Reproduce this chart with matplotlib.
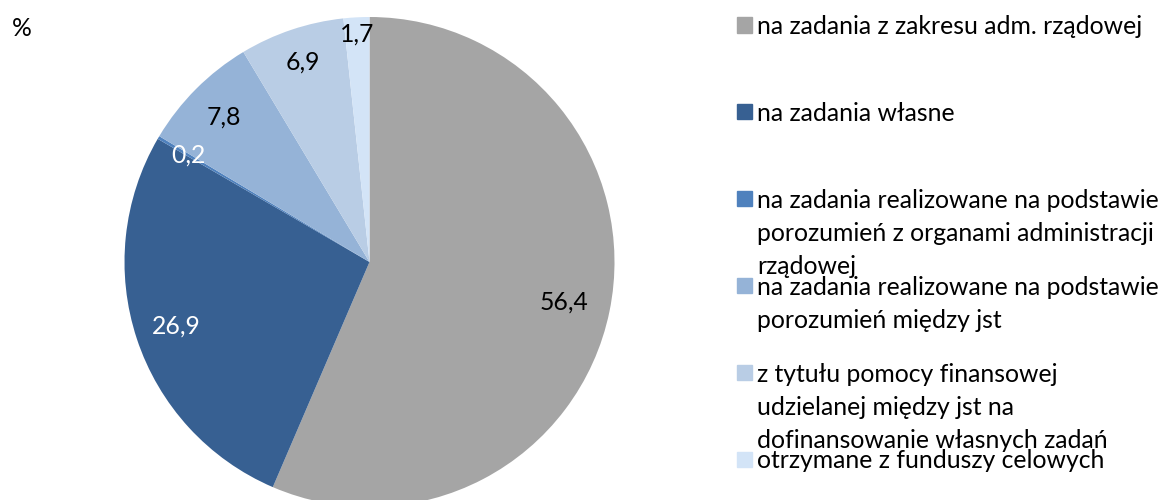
import matplotlib
matplotlib.use("Agg")
import numpy as np
import matplotlib.pyplot as plt

# -----------------------------
# data
# -----------------------------
categories = [
    ["na zadania z zakresu adm. rządowej"],
    ["na zadania własne"],
    ["na zadania realizowane na podstawie",
     "porozumień z organami administracji",
     "rządowej"],
    ["na zadania realizowane na podstawie",
     "porozumień między jst"],
    ["z tytułu pomocy finansowej",
     "udzielanej między jst na",
     "dofinansowanie własnych zadań"],
    ["otrzymane z funduszy celowych"],
]
shares = [56.4, 26.9, 0.2, 7.8, 6.9, 1.7]
value_labels = ["56,4", "26,9", "0,2", "7,8", "6,9", "1,7"]

colors = ["#A5A5A5", "#376092", "#4F81BD", "#95B3D7", "#B9CDE5", "#D3E4F7"]
label_colors = ["black", "white", "white", "black", "black", "black"]
label_dist = [0.81, 0.83, 0.86, 0.84, 0.86, 0.93]

plt.rcParams["font.family"] = ["Lato", "DejaVu Sans"]
FS = 17.8

W, H = 1164, 500
fig = plt.figure(figsize=(W / 100, H / 100), dpi=100)

# pie axes, centre (369.5, 262) px, radius 245 px
cx, cy, r = 369.5, 262, 245
ax = fig.add_axes([(cx - r) / W, (H - cy - r) / H, 2 * r / W, 2 * r / H])
wedges, _ = ax.pie(shares, colors=colors, startangle=90, counterclock=False,
                   radius=1, wedgeprops=dict(linewidth=0))
ax.set_xlim(-1, 1)
ax.set_ylim(-1, 1)
ax.set_aspect("equal")
ax.axis("off")

for w, txt, col, d in zip(wedges, value_labels, label_colors, label_dist):
    ang = np.deg2rad((w.theta1 + w.theta2) / 2)
    ax.text(d * np.cos(ang), d * np.sin(ang), txt, color=col, fontsize=FS,
            ha="center", va="center")

fig.text(12 / W, 1 - 29 / H, "%", fontsize=FS, va="center", ha="left")

# legend drawn by hand: items every ~86.8 px, lines 33 px apart
for i, (lines, col) in enumerate(zip(categories, colors)):
    yc = 25 + 86.8 * i
    fig.patches.append(plt.Rectangle((737 / W, 1 - (yc + 7.5) / H), 15 / W, 15 / H,
                                     transform=fig.transFigure, color=col))
    for j, line in enumerate(lines):
        fig.text(757 / W, 1 - (yc + 33 * j) / H, line, fontsize=FS,
                 va="center_baseline", ha="left")

fig.savefig("out.png", dpi=100)
plt.close()
